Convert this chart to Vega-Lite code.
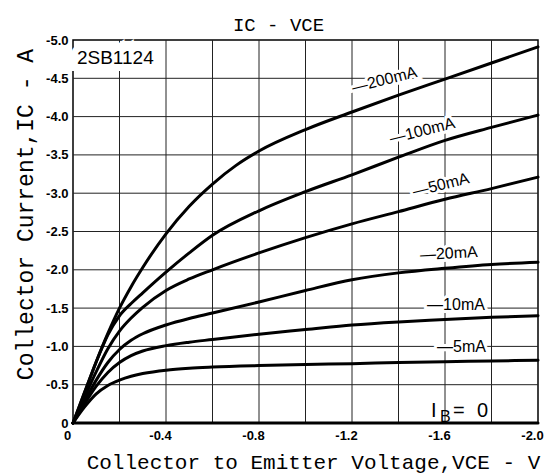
{
  "$schema": "https://vega.github.io/schema/vega-lite/v6.json",
  "width": 465,
  "height": 383,
  "autosize": {"type": "none"},
  "padding": {"left": 73, "top": 40, "right": 9, "bottom": 53},
  "background": "white",
  "config": {
    "view": {"stroke": "black", "strokeWidth": 1.5},
    "axis": {"labelFont": "Liberation Sans", "labelFontWeight": "bold", "labelFontSize": 13, "labelColor": "black", "titleFont": "Liberation Mono", "titleFontWeight": "normal", "titleFontSize": 21, "titleColor": "black", "domain": false, "ticks": false}
  },
  "resolve": {"axis": {"x": "independent", "y": "independent"}},
  "title": {"text": "IC - VCE", "font": "Liberation Mono", "fontSize": 19, "fontWeight": "normal", "color": "black", "baseline": "alphabetic", "offset": 8, "dx": -27, "dy": 24},
  "datasets": {
    "gridV": [{"V": -0.2}, {"V": -0.4}, {"V": -0.6}, {"V": -0.8}, {"V": -1.0}, {"V": -1.2}, {"V": -1.4}, {"V": -1.6}, {"V": -1.8}],
    "gridI": [{"I": -0.5}, {"I": -1.0}, {"I": -1.5}, {"I": -2.0}, {"I": -2.5}, {"I": -3.0}, {"I": -3.5}, {"I": -4.0}, {"I": -4.5}],
    "curves": [
      {"IB": "5mA", "V": 0, "I": 0}, {"IB": "5mA", "V": -0.05, "I": -0.21}, {"IB": "5mA", "V": -0.1, "I": -0.38}, {"IB": "5mA", "V": -0.15, "I": -0.49}, {"IB": "5mA", "V": -0.2, "I": -0.56}, {"IB": "5mA", "V": -0.25, "I": -0.61}, {"IB": "5mA", "V": -0.3, "I": -0.645}, {"IB": "5mA", "V": -0.4, "I": -0.69}, {"IB": "5mA", "V": -0.5, "I": -0.715}, {"IB": "5mA", "V": -0.6, "I": -0.73}, {"IB": "5mA", "V": -0.8, "I": -0.75}, {"IB": "5mA", "V": -1.0, "I": -0.765}, {"IB": "5mA", "V": -1.2, "I": -0.775}, {"IB": "5mA", "V": -1.4, "I": -0.79}, {"IB": "5mA", "V": -1.6, "I": -0.8}, {"IB": "5mA", "V": -1.8, "I": -0.81}, {"IB": "5mA", "V": -2.0, "I": -0.82},
      {"IB": "10mA", "V": 0, "I": 0}, {"IB": "10mA", "V": -0.05, "I": -0.25}, {"IB": "10mA", "V": -0.1, "I": -0.48}, {"IB": "10mA", "V": -0.15, "I": -0.66}, {"IB": "10mA", "V": -0.2, "I": -0.79}, {"IB": "10mA", "V": -0.25, "I": -0.88}, {"IB": "10mA", "V": -0.3, "I": -0.94}, {"IB": "10mA", "V": -0.4, "I": -1.01}, {"IB": "10mA", "V": -0.5, "I": -1.055}, {"IB": "10mA", "V": -0.6, "I": -1.09}, {"IB": "10mA", "V": -0.8, "I": -1.16}, {"IB": "10mA", "V": -1.0, "I": -1.22}, {"IB": "10mA", "V": -1.2, "I": -1.28}, {"IB": "10mA", "V": -1.4, "I": -1.32}, {"IB": "10mA", "V": -1.6, "I": -1.35}, {"IB": "10mA", "V": -1.8, "I": -1.38}, {"IB": "10mA", "V": -2.0, "I": -1.4},
      {"IB": "20mA", "V": 0, "I": 0}, {"IB": "20mA", "V": -0.05, "I": -0.29}, {"IB": "20mA", "V": -0.1, "I": -0.56}, {"IB": "20mA", "V": -0.15, "I": -0.79}, {"IB": "20mA", "V": -0.2, "I": -0.96}, {"IB": "20mA", "V": -0.25, "I": -1.08}, {"IB": "20mA", "V": -0.3, "I": -1.165}, {"IB": "20mA", "V": -0.4, "I": -1.28}, {"IB": "20mA", "V": -0.5, "I": -1.365}, {"IB": "20mA", "V": -0.6, "I": -1.435}, {"IB": "20mA", "V": -0.8, "I": -1.58}, {"IB": "20mA", "V": -1.0, "I": -1.73}, {"IB": "20mA", "V": -1.2, "I": -1.87}, {"IB": "20mA", "V": -1.4, "I": -1.96}, {"IB": "20mA", "V": -1.6, "I": -2.02}, {"IB": "20mA", "V": -1.8, "I": -2.07}, {"IB": "20mA", "V": -2.0, "I": -2.1},
      {"IB": "50mA", "V": 0, "I": 0}, {"IB": "50mA", "V": -0.05, "I": -0.34}, {"IB": "50mA", "V": -0.1, "I": -0.67}, {"IB": "50mA", "V": -0.15, "I": -0.97}, {"IB": "50mA", "V": -0.2, "I": -1.2}, {"IB": "50mA", "V": -0.25, "I": -1.37}, {"IB": "50mA", "V": -0.3, "I": -1.51}, {"IB": "50mA", "V": -0.4, "I": -1.73}, {"IB": "50mA", "V": -0.5, "I": -1.88}, {"IB": "50mA", "V": -0.6, "I": -2.0}, {"IB": "50mA", "V": -0.8, "I": -2.22}, {"IB": "50mA", "V": -1.0, "I": -2.42}, {"IB": "50mA", "V": -1.2, "I": -2.6}, {"IB": "50mA", "V": -1.4, "I": -2.76}, {"IB": "50mA", "V": -1.6, "I": -2.92}, {"IB": "50mA", "V": -1.8, "I": -3.06}, {"IB": "50mA", "V": -2.0, "I": -3.21},
      {"IB": "100mA", "V": 0, "I": 0}, {"IB": "100mA", "V": -0.05, "I": -0.4}, {"IB": "100mA", "V": -0.1, "I": -0.8}, {"IB": "100mA", "V": -0.15, "I": -1.15}, {"IB": "100mA", "V": -0.2, "I": -1.4}, {"IB": "100mA", "V": -0.25, "I": -1.56}, {"IB": "100mA", "V": -0.3, "I": -1.7}, {"IB": "100mA", "V": -0.4, "I": -1.97}, {"IB": "100mA", "V": -0.5, "I": -2.22}, {"IB": "100mA", "V": -0.6, "I": -2.45}, {"IB": "100mA", "V": -0.8, "I": -2.77}, {"IB": "100mA", "V": -1.0, "I": -3.02}, {"IB": "100mA", "V": -1.2, "I": -3.24}, {"IB": "100mA", "V": -1.4, "I": -3.47}, {"IB": "100mA", "V": -1.6, "I": -3.69}, {"IB": "100mA", "V": -1.8, "I": -3.86}, {"IB": "100mA", "V": -2.0, "I": -4.02},
      {"IB": "200mA", "V": 0, "I": 0}, {"IB": "200mA", "V": -0.05, "I": -0.4}, {"IB": "200mA", "V": -0.1, "I": -0.8}, {"IB": "200mA", "V": -0.15, "I": -1.17}, {"IB": "200mA", "V": -0.2, "I": -1.5}, {"IB": "200mA", "V": -0.25, "I": -1.78}, {"IB": "200mA", "V": -0.3, "I": -2.03}, {"IB": "200mA", "V": -0.4, "I": -2.47}, {"IB": "200mA", "V": -0.5, "I": -2.83}, {"IB": "200mA", "V": -0.6, "I": -3.12}, {"IB": "200mA", "V": -0.7, "I": -3.36}, {"IB": "200mA", "V": -0.8, "I": -3.55}, {"IB": "200mA", "V": -1.0, "I": -3.83}, {"IB": "200mA", "V": -1.2, "I": -4.06}, {"IB": "200mA", "V": -1.4, "I": -4.28}, {"IB": "200mA", "V": -1.6, "I": -4.49}, {"IB": "200mA", "V": -1.8, "I": -4.7}, {"IB": "200mA", "V": -2.0, "I": -4.91},
      {"IB": "0", "V": 0, "I": 0}, {"IB": "0", "V": -2.0, "I": 0}
    ],
    "labels": [
      {"label": "—200mA", "V": -1.2, "I": -4.373},
      {"label": "—100mA", "V": -1.363, "I": -3.708},
      {"label": "—50mA", "V": -1.462, "I": -3.016},
      {"label": "—20mA", "V": -1.492, "I": -2.193},
      {"label": "—10mA", "V": -1.523, "I": -1.54},
      {"label": "—5mA", "V": -1.566, "I": -0.992}
    ],
    "ib0": [
      {"part": "I", "V": -1.54, "I": -0.078},
      {"part": "B", "V": -1.578, "I": -0.013},
      {"part": "=", "V": -1.634, "I": -0.078},
      {"part": "0", "V": -1.738, "I": -0.078}
    ],
    "device": [{"name": "2SB1124", "V": -0.017, "I": -4.76}]
  },
  "layer": [
    {
      "data": {"name": "gridV"},
      "mark": {"type": "rule", "color": "#222", "strokeWidth": 1},
      "encoding": {"x": {"field": "V", "type": "quantitative", "axis": null}}
    },
    {
      "data": {"name": "gridI"},
      "mark": {"type": "rule", "color": "#222", "strokeWidth": 1},
      "encoding": {"y": {"field": "I", "type": "quantitative", "axis": null}}
    },
    {
      "data": {"name": "curves"},
      "mark": {"type": "line", "color": "black", "strokeWidth": 3, "interpolate": "monotone", "strokeCap": "round"},
      "encoding": {
        "x": {"field": "V", "type": "quantitative", "scale": {"domain": [-2, 0], "reverse": true, "nice": false, "zero": false},
          "axis": {"grid": false, "values": [0, -0.4, -0.8, -1.2, -1.6, -2.0], "labelExpr": "datum.value == 0 ? '0' : '-' + format(abs(datum.value), '.1f')", "labelPadding": 6, "labelOffset": -6, "labelFlush": false, "labelOverlap": false, "title": "Collector to Emitter Voltage,VCE - V", "titleX": 240, "titleY": 45, "titleBaseline": "alphabetic", "titleAlign": "center"}},
        "y": {"field": "I", "type": "quantitative", "scale": {"domain": [-5, 0], "reverse": true, "nice": false, "zero": false},
          "axis": {"grid": false, "values": [0, -0.5, -1.0, -1.5, -2.0, -2.5, -3.0, -3.5, -4.0, -4.5, -5.0], "labelExpr": "datum.value == 0 ? '0' : '-' + format(abs(datum.value), '.1f')", "labelPadding": 5, "labelFlush": false, "labelOverlap": false, "title": "Collector Current,IC - A", "titleFontSize": 23, "titleX": -41, "titleY": 174, "titleAngle": -90, "titleBaseline": "alphabetic", "titleAlign": "center"}},
        "detail": {"field": "IB"}
      }
    },
    {
      "data": {"name": "device"},
      "encoding": {"x": {"field": "V", "type": "quantitative", "axis": null}, "y": {"field": "I", "type": "quantitative", "axis": null}, "text": {"field": "name"}},
      "layer": [
        {"mark": {"type": "text", "font": "Liberation Sans", "fontSize": 19, "align": "left", "baseline": "middle", "fill": "white", "stroke": "white", "strokeWidth": 14}},
        {"mark": {"type": "text", "font": "Liberation Sans", "fontSize": 19, "align": "left", "baseline": "middle", "color": "black"}}
      ]
    },
    {
      "data": {"name": "labels"},
      "transform": [{"filter": "indexof(['—200mA','—100mA','—50mA'], datum.label) >= 0"}],
      "encoding": {"x": {"field": "V", "type": "quantitative", "axis": null}, "y": {"field": "I", "type": "quantitative", "axis": null}, "text": {"field": "label"}},
      "layer": [
        {"mark": {"type": "text", "font": "Liberation Sans", "fontSize": 16, "align": "left", "baseline": "middle", "angle": -14, "fill": "white", "stroke": "white", "strokeWidth": 6}},
        {"mark": {"type": "text", "font": "Liberation Sans", "fontSize": 16, "align": "left", "baseline": "middle", "angle": -14, "color": "black"}}
      ]
    },
    {
      "data": {"name": "labels"},
      "transform": [{"filter": "datum.label == '—20mA'"}],
      "encoding": {"x": {"field": "V", "type": "quantitative", "axis": null}, "y": {"field": "I", "type": "quantitative", "axis": null}, "text": {"field": "label"}},
      "layer": [
        {"mark": {"type": "text", "font": "Liberation Sans", "fontSize": 16, "align": "left", "baseline": "middle", "angle": -3, "fill": "white", "stroke": "white", "strokeWidth": 6}},
        {"mark": {"type": "text", "font": "Liberation Sans", "fontSize": 16, "align": "left", "baseline": "middle", "angle": -3, "color": "black"}}
      ]
    },
    {
      "data": {"name": "labels"},
      "transform": [{"filter": "datum.label == '—10mA' || datum.label == '—5mA'"}],
      "encoding": {"x": {"field": "V", "type": "quantitative", "axis": null}, "y": {"field": "I", "type": "quantitative", "axis": null}, "text": {"field": "label"}},
      "layer": [
        {"mark": {"type": "text", "font": "Liberation Sans", "fontSize": 16, "align": "left", "baseline": "middle", "fill": "white", "stroke": "white", "strokeWidth": 6}},
        {"mark": {"type": "text", "font": "Liberation Sans", "fontSize": 16, "align": "left", "baseline": "middle", "color": "black"}}
      ]
    },
    {
      "data": {"name": "ib0"},
      "transform": [{"filter": "datum.part != 'B'"}],
      "encoding": {"x": {"field": "V", "type": "quantitative", "axis": null}, "y": {"field": "I", "type": "quantitative", "axis": null}, "text": {"field": "part"}},
      "layer": [
        {"mark": {"type": "text", "font": "Liberation Sans", "fontSize": 20, "align": "left", "baseline": "alphabetic", "fill": "white", "stroke": "white", "strokeWidth": 6}},
        {"mark": {"type": "text", "font": "Liberation Sans", "fontSize": 20, "align": "left", "baseline": "alphabetic", "color": "black"}}
      ]
    },
    {
      "data": {"name": "ib0"},
      "transform": [{"filter": "datum.part == 'B'"}],
      "mark": {"type": "text", "font": "Liberation Sans", "fontSize": 16, "align": "left", "baseline": "alphabetic", "color": "black"},
      "encoding": {"x": {"field": "V", "type": "quantitative", "axis": null}, "y": {"field": "I", "type": "quantitative", "axis": null}, "text": {"field": "part"}}
    }
  ]
}
